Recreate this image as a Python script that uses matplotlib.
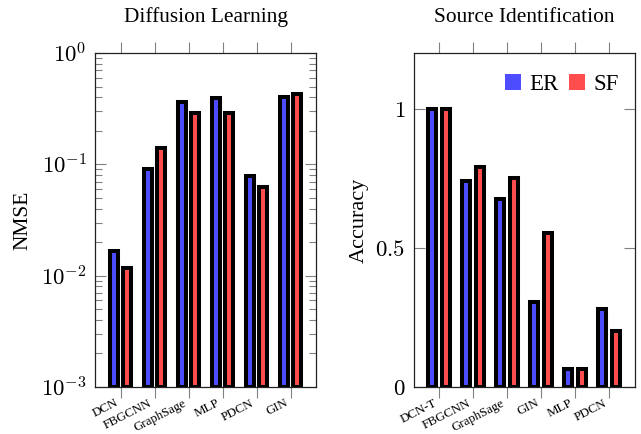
import matplotlib
matplotlib.use("Agg")
import matplotlib.pyplot as plt
import numpy as np
from matplotlib.patches import Patch
from matplotlib.transforms import ScaledTranslation
from matplotlib.ticker import FixedLocator, FuncFormatter, LogLocator, NullFormatter

# ---- data ----
diff_models = ["DCN", "FBGCNN", "GraphSage", "MLP", "PDCN", "GIN"]
diff_er = [0.0157, 0.090, 0.36, 0.39, 0.078, 0.40]
diff_sf = [0.0106, 0.140, 0.29, 0.29, 0.062, 0.43]

src_models = ["DCN-T", "FBGCNN", "GraphSage", "GIN", "MLP", "PDCN"]
src_er = [1.0, 0.74, 0.675, 0.305, 0.065, 0.28]
src_sf = [1.0, 0.79, 0.75, 0.555, 0.065, 0.20]

series_names = ["ER", "SF"]
col_er = "#4D4DFF"
col_sf = "#FF4D4D"

plt.rcParams["font.family"] = ["Liberation Serif", "DejaVu Serif"]
plt.rcParams["mathtext.fontset"] = "cm"

W, H = 641, 434
fig = plt.figure(figsize=(W / 100, H / 100), dpi=100)
ax1 = fig.add_axes([95 / W, 1 - 387 / H, 221 / W, 334 / H])
ax2 = fig.add_axes([413.7 / W, 1 - 387 / H, 221 / W, 334 / H])

bw = 0.24
off = 0.2
lw = 2.9
tick_col = "#808080"


def style(ax, labels):
    x = np.arange(len(labels))
    ax.set_xlim(-0.75, 5.75)
    ax.set_xticks(x)
    ax.set_xticklabels([])
    shift = ScaledTranslation(-0.06, -0.10, fig.dpi_scale_trans)
    tr = ax.get_xaxis_transform() + shift
    for xi, lab in zip(x, labels):
        ax.text(xi, 0, lab, transform=tr, rotation=27, ha="right", va="top",
                rotation_mode="anchor", fontsize=9.3, clip_on=False)
    ax.tick_params(axis="x", which="major", direction="out", length=8, width=0.8,
                   color=tick_col, top=True, bottom=True, pad=1)
    ax.tick_params(axis="y", which="major", direction="in", length=8, width=0.8,
                   color=tick_col, left=True, right=True, labelsize=16.5, pad=6)
    ax.tick_params(axis="y", which="minor", direction="in", length=5, width=0.8,
                   color=tick_col, left=True, right=True)
    for s in ax.spines.values():
        s.set_linewidth(0.9)
        s.set_color("#222222")


# ---- left: diffusion learning ----
x = np.arange(len(diff_models))
ax1.bar(x - off, diff_er, bw, bottom=1e-3, color=col_er, edgecolor="black", linewidth=lw)
ax1.bar(x + off, diff_sf, bw, bottom=1e-3, color=col_sf, edgecolor="black", linewidth=lw)
ax1.set_yscale("log")
ax1.set_ylim(1e-3, 1e0)
ax1.yaxis.set_major_locator(FixedLocator([1e-3, 1e-2, 1e-1, 1e0]))
ax1.yaxis.set_major_formatter(FuncFormatter(lambda v, p: r"$10^{%d}$" % int(round(np.log10(v)))))
ax1.yaxis.set_minor_locator(LogLocator(base=10, subs=np.arange(2, 10), numticks=20))
ax1.yaxis.set_minor_formatter(NullFormatter())
style(ax1, diff_models)
ax1.set_ylabel("NMSE", fontsize=15.5, labelpad=6)
ax1.set_title("Diffusion Learning", fontsize=15.4, pad=22)

# ---- right: source identification ----
x = np.arange(len(src_models))
ax2.bar(x - off, src_er, bw, color=col_er, edgecolor="black", linewidth=lw)
ax2.bar(x + off, src_sf, bw, color=col_sf, edgecolor="black", linewidth=lw)
ax2.set_ylim(0, 1.2)
ax2.yaxis.set_major_locator(FixedLocator([0, 0.5, 1.0]))
ax2.yaxis.set_major_formatter(FuncFormatter(lambda v, p: r"$%g$" % v))
style(ax2, src_models)
ax2.set_ylabel("Accuracy", fontsize=16, labelpad=5)
ax2.set_title("Source Identification", fontsize=15.4, pad=22)

handles = [Patch(facecolor=col_er, edgecolor="none"), Patch(facecolor=col_sf, edgecolor="none")]
ax2.legend(handles, series_names, loc="center right", bbox_to_anchor=(1.0, 0.905),
           ncol=2, frameon=False, fontsize=16.5, handlelength=0.72, handleheight=0.72,
           handletextpad=0.35, columnspacing=0.45, borderaxespad=0.3)

fig.savefig("out.png", dpi=100)
